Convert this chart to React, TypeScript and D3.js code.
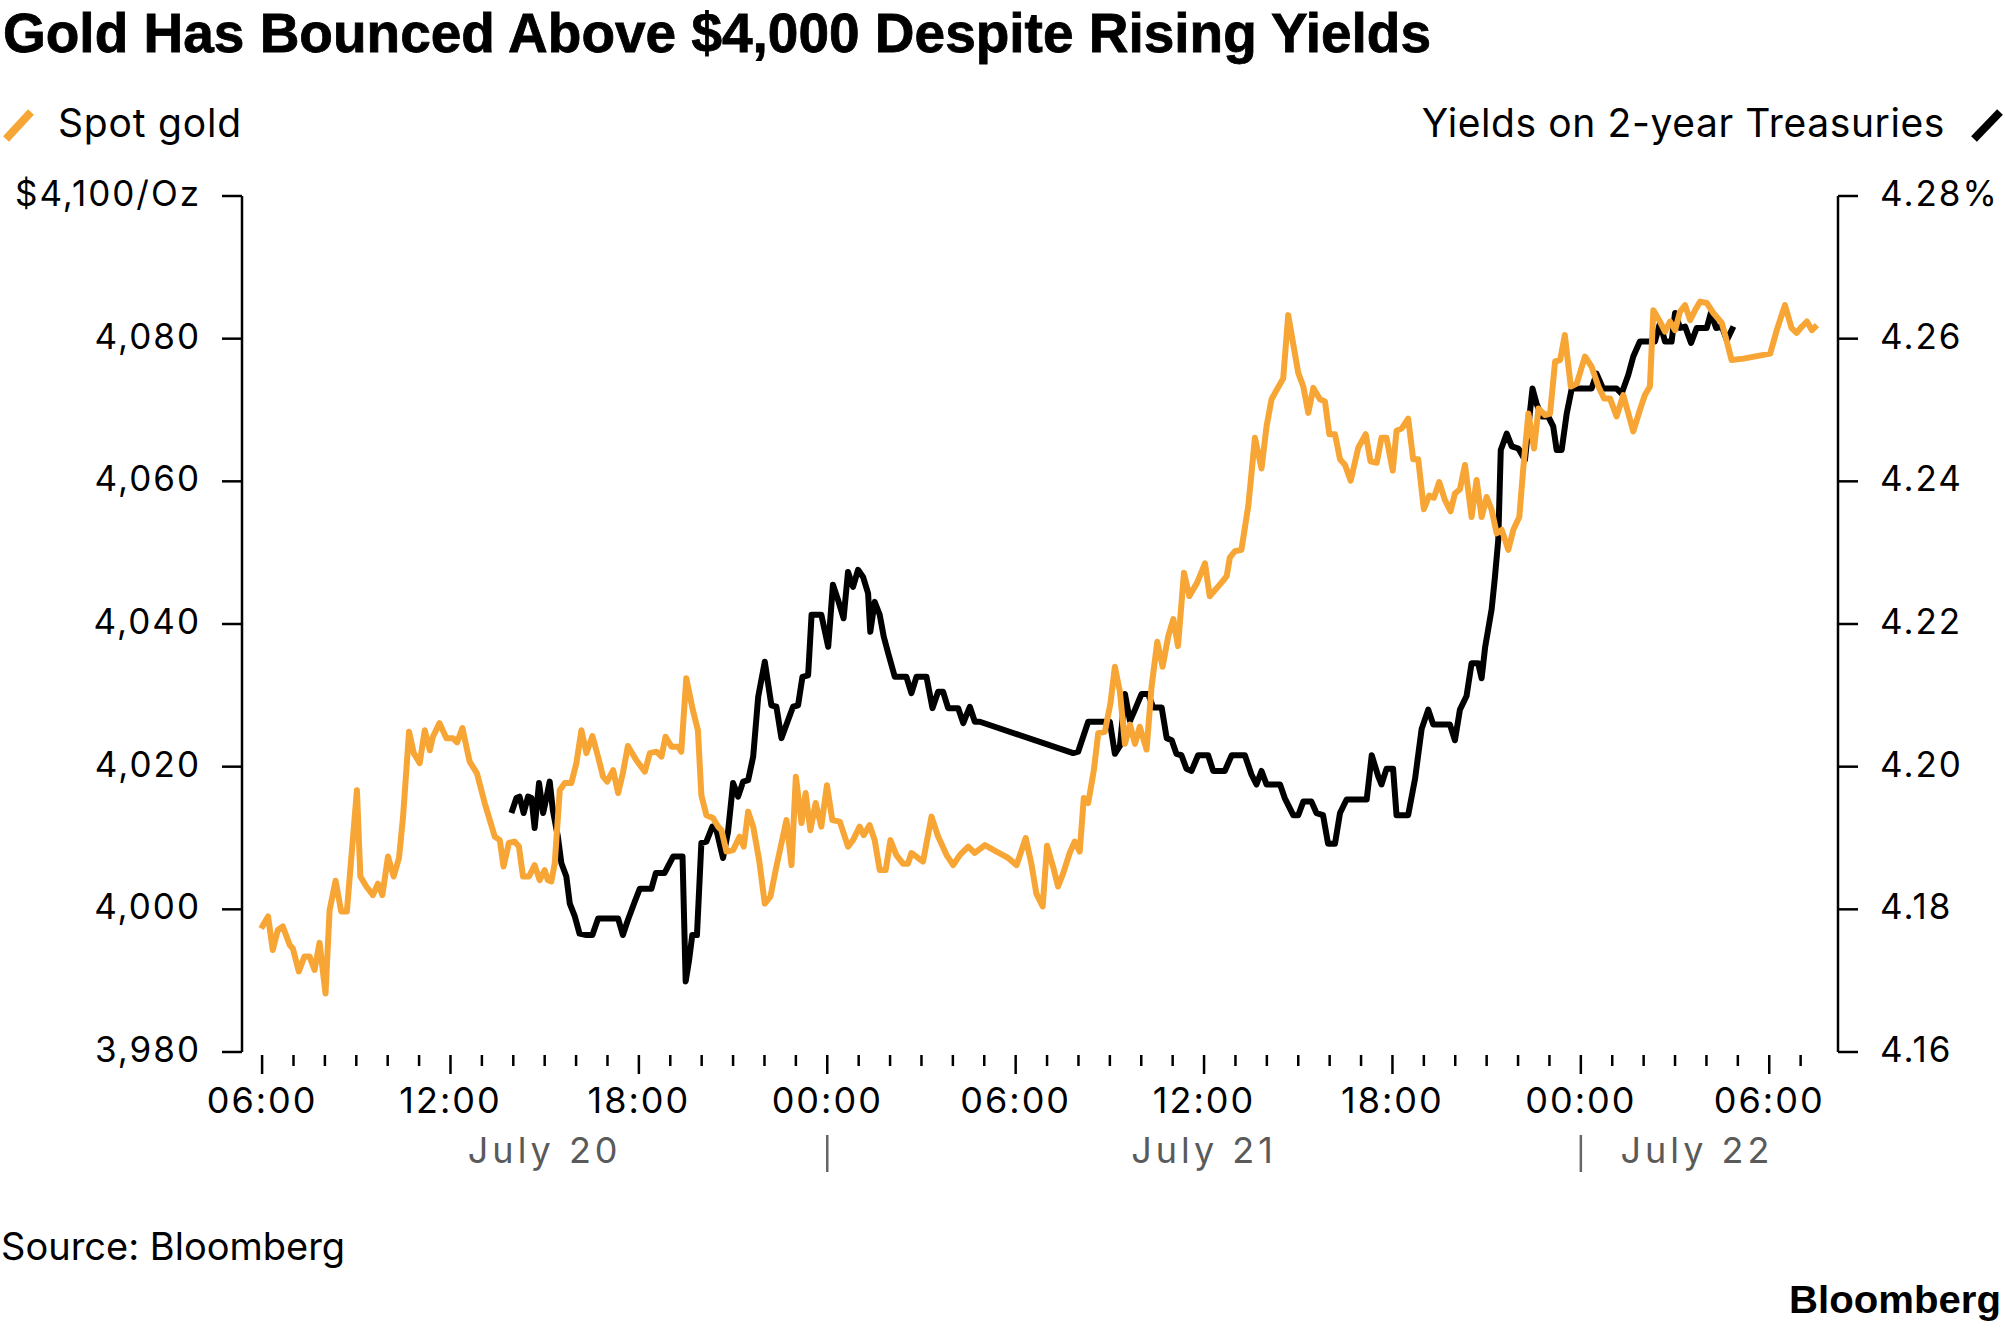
import * as d3 from 'd3';

// Spot gold, hours after Jul 20 06:00 and $/oz
const goldHours = [
  -0.03, 0.19, 0.34, 0.5, 0.66, 0.88, 0.98, 1.17, 1.35, 1.51, 1.67, 1.83, 2.02, 2.15, 2.34, 2.52, 2.7,
  3.02, 3.13, 3.32, 3.53, 3.69, 3.83, 4.01, 4.19, 4.36, 4.49, 4.68, 4.83, 5.02, 5.18, 5.34, 5.44, 5.65,
  5.87, 6.08, 6.21, 6.38, 6.61, 6.84, 7.09, 7.41, 7.57, 7.69, 7.86, 8.04, 8.18, 8.31, 8.5, 8.68, 8.84,
  9.0, 9.1, 9.21, 9.32, 9.48, 9.64, 9.85, 10.01, 10.17, 10.33, 10.52, 10.7, 10.86, 10.99, 11.18, 11.34,
  11.49, 11.65, 11.92, 12.19, 12.35, 12.56, 12.72, 12.85, 13.04, 13.25, 13.35, 13.51, 13.72, 13.88,
  13.99, 14.15, 14.36, 14.52, 14.63, 14.79, 15.0, 15.21, 15.34, 15.48, 15.64, 15.83, 16.01, 16.19,
  16.38, 16.7, 16.86, 17.0, 17.18, 17.31, 17.46, 17.63, 17.81, 17.99, 18.16, 18.4, 18.66, 18.82, 19.03,
  19.16, 19.35, 19.51, 19.67, 19.86, 20.01, 20.2, 20.41, 20.57, 20.68, 20.89, 21.05, 21.32, 21.53, 21.8,
  22.01, 22.22, 22.49, 22.7, 23.02, 23.39, 23.76, 24.03, 24.32, 24.5, 24.66, 24.86, 25.0, 25.19, 25.35,
  25.51, 25.72, 25.88, 26.04, 26.17, 26.31, 26.49, 26.63, 26.84, 27.02, 27.16, 27.32, 27.48, 27.64,
  27.8, 27.95, 28.17, 28.33, 28.51, 28.68, 28.86, 29.02, 29.17, 29.36, 29.53, 29.78, 30.03, 30.18,
  30.4, 30.61, 30.72, 30.82, 30.98, 31.19, 31.41, 31.62, 31.83, 31.99, 32.15, 32.31, 32.52, 32.68,
  33.0, 33.16, 33.32, 33.48, 33.69, 33.85, 33.99, 34.17, 34.33, 34.49, 34.67, 34.91, 35.15, 35.3, 35.5,
  35.65, 35.81, 36.01, 36.13, 36.29, 36.5, 36.66, 36.82, 37.0, 37.17, 37.32, 37.49, 37.67, 37.85,
  37.99, 38.15, 38.31, 38.52, 38.68, 38.84, 39.0, 39.16, 39.32, 39.48, 39.69, 39.85, 40.04, 40.17,
  40.33, 40.51, 40.65, 40.86, 41.02, 41.18, 41.34, 41.49, 41.68, 41.87, 42.13, 42.34, 42.56, 42.74,
  42.93, 43.14, 43.35, 43.67, 43.88, 44.04, 44.2, 44.31, 44.52, 44.68, 44.84, 45.0, 45.16, 45.32,
  45.48, 45.64, 45.8, 46.01, 46.22, 46.49, 46.65, 46.8, 47.18, 48.03, 48.24, 48.5, 48.71, 48.87, 49.04,
  49.2, 49.36, 49.52,
];
const goldPrice = [
  3997.3, 3999.0, 3994.3, 3997.1, 3997.6, 3995.0, 3994.5, 3991.3, 3993.4, 3993.4, 3991.5, 3995.3,
  3988.2, 3999.9, 4004.0, 3999.7, 3999.7, 4016.7, 4004.6, 4003.2, 4002.0, 4003.6, 4002.0, 4007.4,
  4004.6, 4007.2, 4013.0, 4024.9, 4021.9, 4020.5, 4025.1, 4022.3, 4024.2, 4026.1, 4024.0, 4024.0,
  4023.4, 4025.4, 4020.7, 4019.1, 4014.9, 4010.2, 4009.7, 4006.0, 4009.3, 4009.5, 4008.8, 4004.6,
  4004.6, 4006.2, 4004.1, 4005.5, 4004.1, 4003.9, 4006.4, 4016.7, 4017.7, 4017.7, 4020.5, 4025.1,
  4021.9, 4024.3, 4021.4, 4018.6, 4017.9, 4019.5, 4016.3, 4019.1, 4022.9, 4020.9, 4019.3, 4021.9,
  4022.1, 4021.4, 4024.2, 4022.8, 4022.8, 4022.1, 4032.4, 4027.9, 4025.1, 4016.0, 4013.2, 4012.8,
  4011.6, 4011.1, 4008.1, 4008.3, 4010.2, 4008.8, 4013.7, 4011.6, 4006.9, 4000.8, 4001.8, 4006.0,
  4012.5, 4006.2, 4018.6, 4012.1, 4016.3, 4011.1, 4014.9, 4011.6, 4017.4, 4012.5, 4012.3, 4008.8,
  4009.7, 4011.6, 4010.4, 4011.8, 4009.7, 4005.5, 4005.5, 4009.7, 4007.6, 4006.4, 4006.4, 4007.9,
  4007.2, 4006.7, 4013.0, 4010.2, 4007.6, 4006.2, 4007.6, 4008.8, 4007.9, 4009.0, 4008.1, 4007.2,
  4006.2, 4010.0, 4006.4, 4002.2, 4000.4, 4008.9, 4006.0, 4003.2, 4005.0, 4007.9, 4009.5, 4008.1,
  4015.6, 4014.9, 4019.5, 4024.7, 4024.9, 4028.9, 4034.0, 4030.5, 4023.2, 4025.9, 4023.2, 4025.6,
  4022.4, 4031.3, 4037.5, 4034.0, 4038.3, 4040.7, 4036.9, 4047.2, 4043.9, 4045.8, 4048.5, 4043.9,
  4045.0, 4046.1, 4046.7, 4049.3, 4050.2, 4050.4, 4056.6, 4066.1, 4061.8, 4067.7, 4071.5, 4072.8,
  4074.4, 4083.3, 4075.2, 4073.3, 4069.6, 4073.1, 4071.5, 4071.2, 4066.6, 4066.6, 4063.1, 4062.3,
  4060.1, 4064.7, 4066.6, 4062.8, 4062.6, 4066.1, 4066.1, 4061.5, 4067.1, 4067.4, 4068.8, 4063.1,
  4063.1, 4056.1, 4058.0, 4057.7, 4059.9, 4057.4, 4055.8, 4058.3, 4058.9, 4062.3, 4055.0, 4060.2,
  4055.0, 4057.8, 4056.0, 4052.7, 4053.2, 4050.4, 4053.2, 4055.0, 4062.0, 4069.5, 4064.6, 4070.2,
  4069.3, 4069.5, 4076.8, 4077.0, 4080.5, 4073.3, 4073.7, 4077.5, 4076.1, 4073.3, 4071.6, 4071.6,
  4069.1, 4072.1, 4067.0, 4070.0, 4072.1, 4073.3, 4084.0, 4082.4, 4081.0, 4082.4, 4081.2, 4083.8,
  4084.7, 4082.6, 4084.0, 4085.2, 4085.0, 4083.6, 4082.2, 4079.6, 4077.0, 4077.2, 4077.9, 4081.2,
  4084.7, 4081.5, 4080.8, 4081.7, 4082.4, 4081.2, 4081.9,
];

// 2-year Treasury yield, hours after Jul 20 06:00 and %
const yieldHours = [
  7.94, 8.1, 8.2, 8.33, 8.47, 8.58, 8.68, 8.82, 8.95, 9.03, 9.16, 9.26, 9.42, 9.53, 9.69, 9.8, 9.96,
  10.11, 10.33, 10.52, 10.7, 10.91, 11.16, 11.34, 11.49, 11.65, 11.87, 12.03, 12.4, 12.54, 12.82, 13.09,
  13.39, 13.49, 13.6, 13.7, 13.85, 13.99, 14.15, 14.34, 14.47, 14.68, 14.84, 15.0, 15.16, 15.32, 15.48,
  15.64, 15.8, 16.01, 16.22, 16.38, 16.54, 16.75, 16.91, 17.07, 17.21, 17.39, 17.5, 17.81, 18.03, 18.18,
  18.34, 18.52, 18.66, 18.82, 18.98, 19.14, 19.3, 19.37, 19.51, 19.67, 19.8, 19.94, 20.15, 20.52, 20.68,
  20.84, 21.16, 21.35, 21.53, 21.69, 21.85, 22.17, 22.33, 22.54, 22.7, 22.86, 25.83, 25.99, 26.31, 27.0,
  27.16, 27.32, 27.48, 27.64, 27.8, 28.01, 28.22, 28.38, 28.65, 28.81, 28.97, 29.12, 29.28, 29.44, 29.6,
  29.81, 30.13, 30.29, 30.66, 30.88, 31.3, 31.51, 31.67, 31.83, 31.99, 32.42, 32.57, 32.84, 33.0, 33.16,
  33.42, 33.58, 33.79, 33.95, 34.17, 34.33, 34.54, 35.18, 35.34, 35.55, 35.65, 35.81, 36.02, 36.13, 36.5,
  36.72, 36.93, 37.14, 37.3, 37.83, 37.99, 38.15, 38.36, 38.52, 38.73, 38.84, 38.95, 39.16, 39.26, 39.37,
  39.45, 39.64, 39.8, 40.01, 40.22, 40.33, 40.46, 40.59, 40.75, 40.96, 41.12, 41.23, 41.39, 41.55, 41.71,
  42.34, 42.5, 42.71, 43.14, 43.3, 43.51, 43.67, 43.88, 44.36, 44.52, 44.68, 44.89, 45.0, 45.16, 45.32,
  45.51, 45.69, 46.01, 46.14, 46.31, 46.49, 46.65, 46.86,
];
const yieldPct = [
  4.1935, 4.1956, 4.1958, 4.1935, 4.1958, 4.1956, 4.1914, 4.1977, 4.1935, 4.1951, 4.1979, 4.1939, 4.1902,
  4.1865, 4.1846, 4.1808, 4.179, 4.1766, 4.1764, 4.1764, 4.1787, 4.1787, 4.1787, 4.1787, 4.1764, 4.1785,
  4.1811, 4.1829, 4.1829, 4.1851, 4.1851, 4.1874, 4.1874, 4.1699, 4.1729, 4.1764, 4.1764, 4.1893, 4.1895,
  4.1916, 4.1911, 4.1872, 4.1909, 4.1977, 4.1958, 4.1979, 4.1981, 4.2014, 4.2098, 4.2147, 4.2086, 4.2084,
  4.204, 4.2065, 4.2084, 4.2086, 4.2126, 4.2128, 4.2213, 4.2213, 4.2168, 4.2255, 4.2234, 4.2208, 4.2273,
  4.2252, 4.2276, 4.2266, 4.2243, 4.2189, 4.2231, 4.2213, 4.2182, 4.2159, 4.2126, 4.2126, 4.2103, 4.2126,
  4.2126, 4.2082, 4.2105, 4.2105, 4.2082, 4.2082, 4.2061, 4.2084, 4.2063, 4.2063, 4.2019, 4.2021, 4.2063,
  4.2063, 4.2018, 4.2029, 4.2102, 4.2064, 4.208, 4.2102, 4.2102, 4.2083, 4.2083, 4.204, 4.2037, 4.2018,
  4.2016, 4.1997, 4.1994, 4.2016, 4.2016, 4.1994, 4.1994, 4.2016, 4.2016, 4.1989, 4.1975, 4.1994, 4.1975,
  4.1975, 4.1956, 4.1932, 4.1932, 4.1951, 4.1951, 4.1935, 4.1932, 4.1892, 4.1892, 4.1935, 4.1954, 4.1954,
  4.2016, 4.1986, 4.1975, 4.1997, 4.1997, 4.1932, 4.1932, 4.1983, 4.2053, 4.208, 4.2059, 4.2059, 4.2037,
  4.208, 4.2099, 4.2145, 4.2145, 4.2124, 4.2167, 4.2221, 4.2264, 4.2318, 4.2444, 4.2467, 4.2449, 4.2446,
  4.243, 4.2477, 4.253, 4.2509, 4.2491, 4.2491, 4.2477, 4.2444, 4.2444, 4.2495, 4.253, 4.253, 4.2551,
  4.253, 4.253, 4.2523, 4.2549, 4.2575, 4.2596, 4.2596, 4.2622, 4.2596, 4.2596, 4.2636, 4.2615, 4.2617,
  4.2594, 4.2615, 4.2615, 4.2636, 4.2615, 4.2617, 4.2598, 4.2617,
];

const goldTicks = [4100, 4080, 4060, 4040, 4020, 4000, 3980];
const goldTickLabels = ['$4,100/Oz', '4,080', '4,060', '4,040', '4,020', '4,000', '3,980'];
const yieldTicks = [4.28, 4.26, 4.24, 4.22, 4.2, 4.18, 4.16];
const yieldTickLabels = ['4.28%', '4.26', '4.24', '4.22', '4.20', '4.18', '4.16'];
const majorTickHours = [0, 6, 12, 18, 24, 30, 36, 42, 48];
const minorTickHours = d3.range(0, 50);
const dayLabels = ['July 20', 'July 21', 'July 22'];
const dayLabelHours = [9, 30, 45.7];
const midnightHours = [18, 42];

const W = 2005;
const H = 1329;
const left = 242;
const right = 1838;
const top = 196;
const bottom = 1052;
const ORANGE = '#F7A534';
const FONT = "Inter, 'Noto Sans', sans-serif";
const BOLD = "'Liberation Sans', Arial, sans-serif";

const start = new Date(2025, 6, 20, 6, 0);
const at = (h: number) => new Date(start.getTime() + h * 3600 * 1000);

export default function App() {
  const x = d3.scaleTime().domain([at(-0.64), at(50.19)]).range([left, right]);
  const yGold = d3.scaleLinear().domain([3980, 4100]).range([bottom, top]);
  const yRate = d3.scaleLinear().domain([4.16, 4.28]).range([bottom, top]);
  const fmt = d3.timeFormat('%H:%M');

  const goldLine = d3
    .line<number>()
    .x((_, i) => x(at(goldHours[i])))
    .y((d) => yGold(d));
  const rateLine = d3
    .line<number>()
    .x((_, i) => x(at(yieldHours[i])))
    .y((d) => yRate(d));

  return (
    <svg width={W} height={H} style={{ position: 'absolute', left: 0, top: 0, background: '#fff' }}>
      <text
        x={3}
        y={52}
        fontFamily={BOLD}
        fontWeight="bold"
        fontSize={55}
        textLength={1428}
        lengthAdjust="spacing"
        stroke="#000"
        strokeWidth={0.8}
      >
        Gold Has Bounced Above $4,000 Despite Rising Yields
      </text>

      {/* legend */}
      <line x1={6} y1={139} x2={31} y2={112} stroke={ORANGE} strokeWidth={8} />
      <text x={58} y={137} fontFamily={FONT} fontSize={39} letterSpacing={0.8}>Spot gold</text>
      <text x={1945} y={137} fontFamily={FONT} fontSize={39} letterSpacing={0.6} textAnchor="end">
        Yields on 2-year Treasuries
      </text>
      <line x1={1974} y1={139} x2={2000} y2={112} stroke="#000" strokeWidth={8} />

      {/* left axis */}
      <line x1={left} x2={left} y1={top} y2={bottom} stroke="#000" strokeWidth={2.5} />
      {goldTicks.map((v, i) => (
        <g key={'gl' + v}>
          <line x1={left - 20} x2={left} y1={yGold(v)} y2={yGold(v)} stroke="#000" strokeWidth={2.5} />
          <text x={201} y={yGold(v) + 10} fontFamily={FONT} fontSize={35} letterSpacing={2} textAnchor="end">
            {goldTickLabels[i]}
          </text>
        </g>
      ))}

      {/* right axis */}
      <line x1={right} x2={right} y1={top} y2={bottom} stroke="#000" strokeWidth={2.5} />
      {yieldTicks.map((v, i) => (
        <g key={'yr' + v}>
          <line x1={right} x2={right + 20} y1={yRate(v)} y2={yRate(v)} stroke="#000" strokeWidth={2.5} />
          <text x={1880} y={yRate(v) + 10} fontFamily={FONT} fontSize={35} letterSpacing={2}>
            {yieldTickLabels[i]}
          </text>
        </g>
      ))}

      {/* time axis */}
      {minorTickHours.map((h) => {
        const major = majorTickHours.includes(h);
        return (
          <line
            key={'t' + h}
            x1={x(at(h))}
            x2={x(at(h))}
            y1={1055}
            y2={major ? 1074 : 1066}
            stroke="#000"
            strokeWidth={2.5}
          />
        );
      })}
      {majorTickHours.map((h) => (
        <text key={'tl' + h} x={x(at(h))} y={1113} fontFamily={FONT} fontSize={36} letterSpacing={2} textAnchor="middle">
          {fmt(at(h))}
        </text>
      ))}
      {midnightHours.map((h) => (
        <line key={'m' + h} x1={x(at(h))} x2={x(at(h))} y1={1135} y2={1172} stroke="#666" strokeWidth={2.5} />
      ))}
      {dayLabels.map((d, i) => (
        <text
          key={d}
          x={x(at(dayLabelHours[i]))}
          y={1163}
          fontFamily={FONT}
          fontSize={36}
          letterSpacing={4}
          fill="#5a5a5a"
          textAnchor="middle"
        >
          {d}
        </text>
      ))}

      {/* series */}
      <path d={rateLine(yieldPct) ?? ''} fill="none" stroke="#000" strokeWidth={6} strokeLinejoin="round" />
      <path d={goldLine(goldPrice) ?? ''} fill="none" stroke={ORANGE} strokeWidth={6} strokeLinejoin="round" />

      <text x={1} y={1260} fontFamily={FONT} fontSize={38}>Source: Bloomberg</text>
      <text x={2001} y={1313} fontFamily={BOLD} fontWeight="bold" fontSize={38} textAnchor="end" textLength={212} lengthAdjust="spacingAndGlyphs">
        Bloomberg
      </text>
    </svg>
  );
}
